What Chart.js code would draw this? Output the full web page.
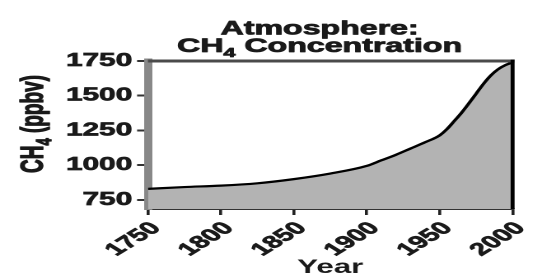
<!DOCTYPE html>
<html>
<head>
<meta charset="utf-8">
<script src="https://cdn.jsdelivr.net/npm/chart.js@4"></script>
<style>
    html, body { margin: 0; padding: 0; background: #fff; overflow: hidden; }
    /* the original figure is a horizontally stretched image, so the whole canvas is stretched */
    #wrap { width: 329px; height: 279px; transform: scaleX(1.6474); transform-origin: 0 0; }
</style>
</head>
<body>
<div id="wrap"><canvas id="ch4Chart" width="329" height="279"></canvas></div>
<script>
// Data
const years = [1750, 1775, 1800, 1825, 1850, 1875, 1900, 1910, 1920, 1930, 1940, 1950, 1955, 1960, 1965, 1970, 1975, 1980, 1985, 1990, 1995, 2000];
const ch4 = [830, 843, 853, 870, 900, 940, 995, 1035, 1075, 1120, 1165, 1215, 1260, 1318, 1378, 1445, 1515, 1585, 1645, 1690, 1720, 1740];
const xTicks = [1750, 1800, 1850, 1900, 1950, 2000];
const yTicks = [750, 1000, 1250, 1500, 1750];

const FONT = "'Liberation Sans', Arial, sans-serif";
const TEXT_COLOR = '#1a1a1a';

// Draws a string with a subscript part: [text, sub, rest], stroked a bit to look heavier
function drawSubText(ctx, parts, x, y, size, subSize, subDrop) {
    ctx.font = 'bold ' + size + 'px ' + FONT;
    var w1 = ctx.measureText(parts[0]).width;
    var w3 = ctx.measureText(parts[2]).width;
    ctx.font = 'bold ' + subSize + 'px ' + FONT;
    var w2 = ctx.measureText(parts[1]).width;
    var start = x - (w1 + w2 + w3) / 2;
    ctx.textAlign = 'left';
    ctx.textBaseline = 'alphabetic';
    var pieces = [
        [parts[0], start, y, size],
        [parts[1], start + w1, y + subDrop, subSize],
        [parts[2], start + w1 + w2, y, size]
    ];
    pieces.forEach(function (p) {
        ctx.font = 'bold ' + p[3] + 'px ' + FONT;
        ctx.fillText(p[0], p[1], p[2]);
        ctx.strokeText(p[0], p[1], p[2]);
    });
}

const framePlugin = {
    id: 'frameAndTitles',
    afterDatasetsDraw(chart) {
        const ctx = chart.ctx;
        const a = chart.chartArea;
        ctx.save();
        // top frame line
        ctx.strokeStyle = '#4a4a4a';
        ctx.lineWidth = 3;
        ctx.beginPath();
        ctx.moveTo(a.left, a.top);
        ctx.lineTo(a.right + 1, a.top);
        ctx.stroke();
        // right frame line
        ctx.strokeStyle = '#000';
        ctx.lineWidth = 2.4;
        ctx.beginPath();
        ctx.moveTo(a.right, a.top - 1.5);
        ctx.lineTo(a.right, a.bottom);
        ctx.stroke();
        ctx.restore();
    },
    afterDraw(chart) {
        const ctx = chart.ctx;
        ctx.save();
        ctx.fillStyle = TEXT_COLOR;
        ctx.strokeStyle = TEXT_COLOR;
        ctx.lineWidth = 0.8;
        ctx.lineJoin = 'round';
        // chart title
        ctx.font = 'bold 19.5px ' + FONT;
        ctx.textAlign = 'center';
        ctx.textBaseline = 'alphabetic';
        ctx.fillText('Atmosphere:', 194, 34.5);
        ctx.strokeText('Atmosphere:', 194, 34.5);
        drawSubText(ctx, ['CH', '4', ' Concentration'], 194, 52, 19.5, 13, 5);
        // y axis title
        ctx.translate(26, 124);
        ctx.rotate(-Math.PI / 2);
        drawSubText(ctx, ['CH', '4', ' (ppbv)'], 0, 0, 19, 13, 5);
        ctx.restore();
    }
};

const ctx = document.getElementById('ch4Chart').getContext('2d');
const ch4Chart = new Chart(ctx, {
    type: 'line',
    data: {
        datasets: [{
            data: years.map((y, i) => ({ x: y, y: ch4[i] })),
            borderColor: '#000',
            borderWidth: 2.2,
            backgroundColor: '#b3b3b3',
            fill: 'start',
            pointRadius: 0,
            cubicInterpolationMode: 'monotone'
        }]
    },
    options: {
        responsive: false,
        animation: false,
        devicePixelRatio: 2,
        layout: { padding: { top: 61, right: 11.5, left: 0, bottom: 0 } },
        plugins: {
            legend: { display: false },
            tooltip: { enabled: false }
        },
        scales: {
            x: {
                type: 'linear',
                min: 1750,
                max: 2000,
                z: 1,
                afterBuildTicks: scale => { scale.ticks = xTicks.map(v => ({ value: v })); },
                afterFit: scale => { scale.height = 70; },
                border: { display: true, color: '#333', width: 2 },
                grid: { drawOnChartArea: false, drawTicks: true, tickLength: 6, color: '#222', lineWidth: 1.8 },
                ticks: {
                    minRotation: 45,
                    maxRotation: 45,
                    padding: 3,
                    labelOffset: 5,
                    color: TEXT_COLOR,
                    textStrokeColor: TEXT_COLOR,
                    textStrokeWidth: 0.7,
                    font: { family: FONT, size: 17.5, weight: 'bold' },
                    callback: v => String(v)
                },
                title: {
                    display: true,
                    text: 'Year',
                    color: TEXT_COLOR,
                    font: { family: FONT, size: 19, weight: 'bold' },
                    padding: { top: 0, bottom: 0 }
                }
            },
            y: {
                min: 685,
                max: 1750,
                z: 1,
                afterBuildTicks: scale => { scale.ticks = yTicks.map(v => ({ value: v })); },
                afterFit: scale => { scale.width = 89.8; },
                border: { display: true, color: '#888', width: 5 },
                grid: { drawOnChartArea: false, drawTicks: true, tickLength: 6.6, color: '#333', lineWidth: 2 },
                ticks: {
                    padding: 3,
                    color: TEXT_COLOR,
                    textStrokeColor: TEXT_COLOR,
                    textStrokeWidth: 0.7,
                    font: { family: FONT, size: 18, weight: 'bold' },
                    callback: v => String(v)
                }
            }
        }
    },
    plugins: [framePlugin]
});
</script>
</body>
</html>
